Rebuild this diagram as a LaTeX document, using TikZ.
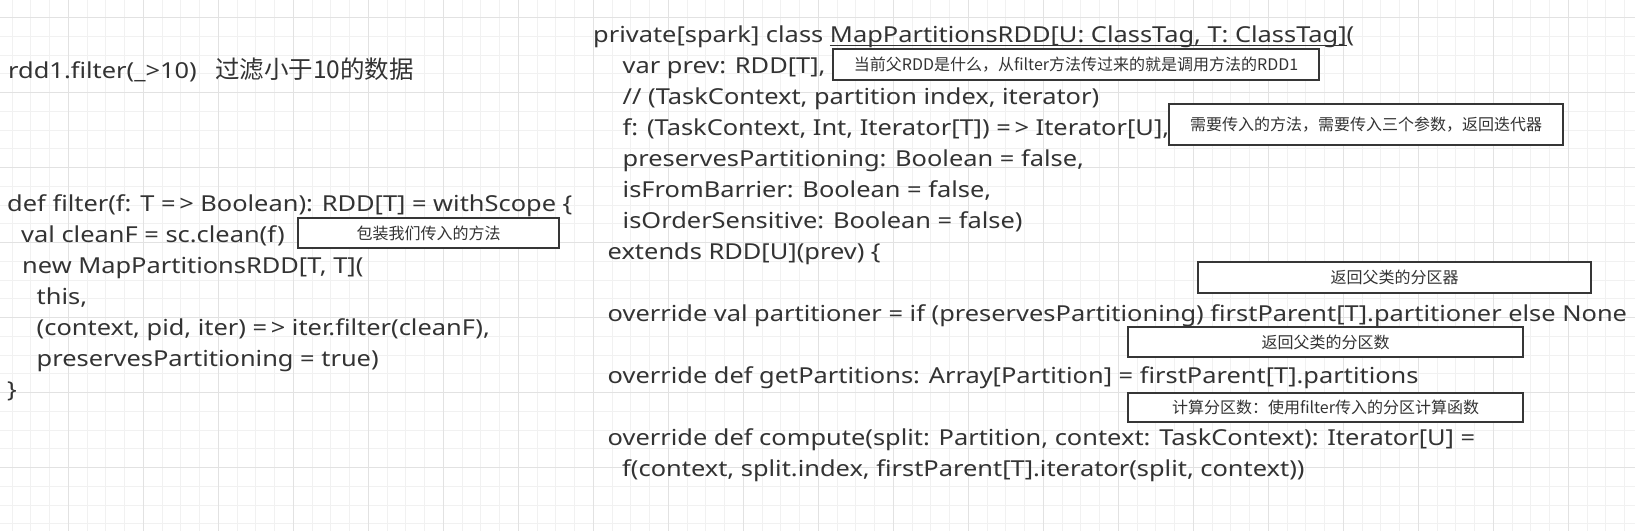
\documentclass[tikz,border=0pt]{standalone}
\usepackage{fontspec}
\setmainfont{Noto Sans}[FakeStretch=1.155]
\newfontfamily\cjk{Noto Sans CJK SC}
\usepackage{tikz}
\definecolor{inkgray}{HTML}{333333}
\definecolor{boxgray}{HTML}{363636}
\definecolor{gridlight}{HTML}{F1F1F1}
\definecolor{griddark}{HTML}{E2E2E2}
\newcommand\lowline[1]{\setbox0\hbox{#1}\rlap{\rule[-3.4pt]{\wd0}{0.9pt}}\box0}

\begin{document}
\begin{tikzpicture}[x=1pt, y=-1pt,
	codeln/.style={anchor=base west, inner sep=0pt, text=inkgray, font=\fontsize{22}{26}\selectfont},
	memo/.style={draw=boxgray, line width=2pt, fill=white, inner sep=0pt, text=inkgray, font=\cjk\fontsize{16}{16}\selectfont},
	gridminor/.style={draw=gridlight, line width=1pt},
	gridmajor/.style={draw=griddark, line width=1pt}]
		%%%%% START %%%%%
		
		\useasboundingbox (0, 0) rectangle (1635, 531);
		\fill[white] (0, 0) rectangle (1635, 531);
		
		\foreach \i in {0,...,86} \draw[gridminor] ({12.05+18.75*\i}, 0) -- ({12.05+18.75*\i}, 531);
		\foreach \j in {0,...,27} \draw[gridminor] (0, {17.7+18.75*\j}) -- (1635, {17.7+18.75*\j});
		\foreach \i in {0,...,20} \draw[gridmajor] ({68.3+75*\i}, 0) -- ({68.3+75*\i}, 531);
		\foreach \j in {0,...,6} \draw[gridmajor] (0, {17.7+75*\j}) -- (1635, {17.7+75*\j});
		
		\node[codeln] (rdd) at (8, 78) {rdd1.filter(\_>10)};
		\node[codeln, font=\cjk\fontsize{24.5}{26}\selectfont] (rddnote) at (215, 78) {过滤小于10的数据};
		
		\node[codeln] (f0) at (7, 211.7) {def filter(f: T =\,> Boolean): RDD[T] = withScope \{};
		\node[codeln] (f1) at (21, 242.7) {val cleanF = sc.clean(f)};
		\node[codeln] (f2) at (22, 273.7) {new MapPartitionsRDD[T, T](};
		\node[codeln] (f3) at (36.5, 304.7) {this,};
		\node[codeln] (f4) at (36.5, 335.7) {(context, pid, iter) =\,> iter.filter(cleanF),};
		\node[codeln] (f5) at (36.5, 366.7) {preservesPartitioning = true)};
		\node[codeln] (f6) at (7, 397.7) {\}};
		
		\node[codeln] (r0) at (593, 42.5) {private[spark] class \lowline{MapPartitionsRDD[U: ClassTag, T: ClassTag]}(};
		\node[codeln] (r1) at (622.5, 73.5) {var prev: RDD[T],};
		\node[codeln] (r2) at (622.5, 104.5) {// (TaskContext, partition index, iterator)};
		\node[codeln] (r3) at (622.5, 135.5) {f: (TaskContext, Int, Iterator[T]) =\,> Iterator[U],};
		\node[codeln] (r4) at (622.5, 166.5) {preservesPartitioning: Boolean = false,};
		\node[codeln] (r5) at (622.5, 197.5) {isFromBarrier: Boolean = false,};
		\node[codeln] (r6) at (622.5, 228.5) {isOrderSensitive: Boolean = false)};
		\node[codeln] (r7) at (607.5, 259.5) {extends RDD[U](prev) \{};
		\node[codeln] (r9) at (607.5, 321.5) {override val partitioner = if (preservesPartitioning) firstParent[T].partitioner else None};
		\node[codeln] (r11) at (607.5, 383.5) {override def getPartitions: Array[Partition] = firstParent[T].partitions};
		\node[codeln] (r13) at (607.5, 445.5) {override def compute(split: Partition, context: TaskContext): Iterator[U] =};
		\node[codeln] (r14) at (622, 476.5) {f(context, split.index, firstParent[T].iterator(split, context))};
		
		\node[memo, minimum width=261, minimum height=30] (wrapnote) at (428.5, 233) {包装我们传入的方法};
		\node[memo, minimum width=486, minimum height=31] (prevnote) at (1076, 64.5) {当前父RDD是什么，从filter方法传过来的就是调用方法的RDD1};
		\node[memo, minimum width=394, minimum height=41] (funcnote) at (1366, 124.5) {需要传入的方法，需要传入三个参数，返回迭代器};
		\node[memo, minimum width=393, minimum height=31] (partnote) at (1394.5, 277.5) {返回父类的分区器};
		\node[memo, minimum width=395, minimum height=30] (countnote) at (1325.5, 342) {返回父类的分区数};
		\node[memo, minimum width=395, minimum height=29] (compnote) at (1325.5, 407.5) {计算分区数：使用filter传入的分区计算函数};
		
		%%%%% END %%%%%
\end{tikzpicture}
\end{document}
